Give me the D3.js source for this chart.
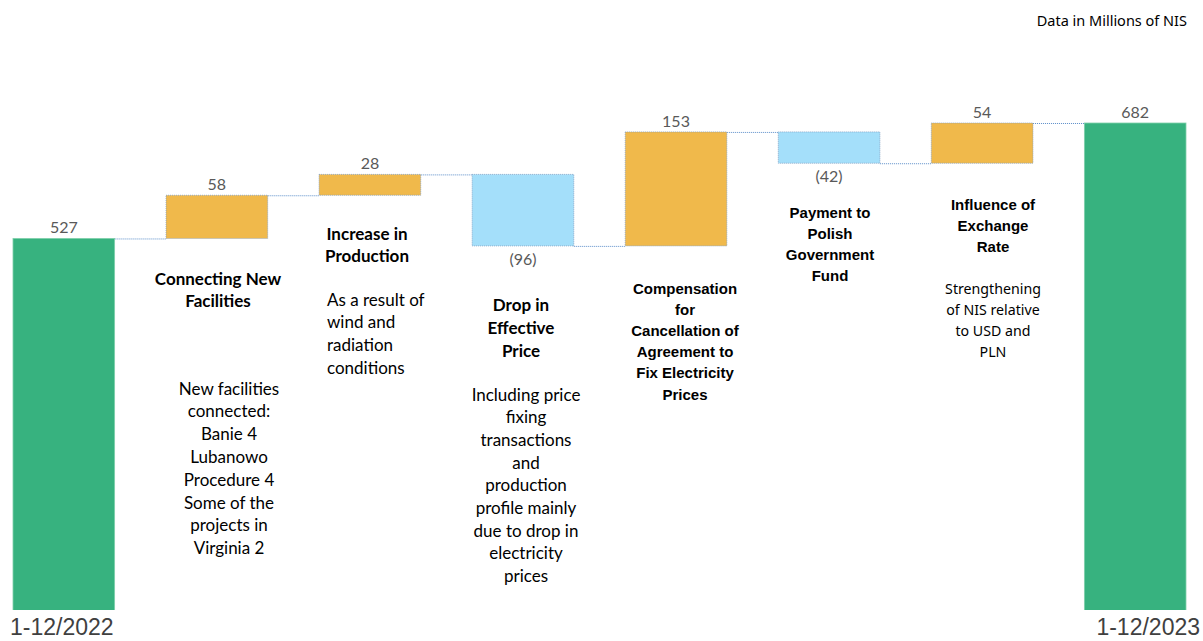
<!DOCTYPE html>
<html>
<head>
<meta charset="utf-8">
<script src="https://cdn.jsdelivr.net/npm/d3@7"></script>
<style>
  html, body { margin: 0; padding: 0; background: #ffffff; }
  svg { display: block; }
</style>
</head>
<body>
<div id="chart"></div>
<script>
// ---------------- DATA ----------------
const categories = [
  "1-12/2022",
  "Connecting New Facilities",
  "Increase in Production",
  "Drop in Effective Price",
  "Compensation for Cancellation of Agreement to Fix Electricity Prices",
  "Payment to Polish Government Fund",
  "Influence of Exchange Rate",
  "1-12/2023"
];
const values = [527, 58, 28, -96, 153, -42, 54, 682];
const kinds = ["total", "delta", "delta", "delta", "delta", "delta", "delta", "total"];
const axisLabels = ["1-12/2022", "", "", "", "", "", "", "1-12/2023"];

const titleLines = [
  [],
  ["Connecting New", "Facilities"],
  ["Increase in", "Production"],
  ["Drop in", "Effective", "Price"],
  ["Compensation", "for", "Cancellation of", "Agreement to", "Fix Electricity", "Prices"],
  ["Payment to", "Polish", "Government", "Fund"],
  ["Influence of", "Exchange", "Rate"],
  []
];
const descLines = [
  [],
  ["New facilities", "connected:", "Banie 4", "Lubanowo", "Procedure 4", "Some of the", "projects in", "Virginia 2"],
  ["As a result of", "wind and", "radiation", "conditions"],
  ["Including price", "fixing", "transactions", "and", "production", "profile mainly", "due to drop in", "electricity", "prices"],
  [],
  [],
  ["Strengthening", "of NIS relative", "to USD and", "PLN"],
  []
];
const unitNote = "Data in Millions of NIS";

// ---------------- LAYOUT ----------------
const W = 1203, H = 641;
const svg = d3.select("#chart").append("svg").attr("width", W).attr("height", H);

const x = d3.scaleBand().domain(categories).range([13, 1186]).paddingInner(0.336).paddingOuter(0);
const y = d3.scaleLinear().domain([0, 682]).range([631, 123]);
const plotBottom = 610;

const colors = { total: "#37B27F", pos: "#F0B94B", neg: "#A4DFFA" };

// compute waterfall segments
let running = 0;
const segs = categories.map((c, i) => {
  const v = values[i];
  let y0, y1;
  if (kinds[i] === "total") { y0 = 0; y1 = v; running = v; }
  else { y0 = running; y1 = running + v; running = y1; }
  return { c, i, v, kind: kinds[i], lo: Math.min(y0, y1), hi: Math.max(y0, y1), end: running };
});

svg.append("defs").append("clipPath").attr("id", "plotclip")
  .append("rect").attr("x", 0).attr("y", 0).attr("width", W).attr("height", plotBottom);

const g = svg.append("g").attr("clip-path", "url(#plotclip)");

// connectors
g.selectAll("line.conn").data(segs.slice(0, -1)).join("line")
  .attr("class", "conn")
  .attr("x1", d => x(d.c) + x.bandwidth())
  .attr("x2", d => x(categories[d.i + 1]))
  .attr("y1", d => y(d.end) + 0.5)
  .attr("y2", d => y(d.end) + 0.5)
  .attr("stroke", "#5B8DC9")
  .attr("stroke-width", 1)
  .attr("stroke-dasharray", "1,1");

// bars
g.selectAll("rect.bar").data(segs).join("rect")
  .attr("class", "bar")
  .attr("x", d => x(d.c))
  .attr("width", x.bandwidth())
  .attr("y", d => y(d.hi))
  .attr("height", d => y(d.lo) - y(d.hi))
  .attr("fill", d => d.kind === "total" ? colors.total : (d.v >= 0 ? colors.pos : colors.neg))
  .attr("stroke", d => d.kind === "total" ? "#7fd0ab" : "#7d9cc0")
  .attr("stroke-width", 0.8)
  .attr("stroke-dasharray", d => d.kind === "total" ? null : "1,1");

// value labels
const fmt = v => v < 0 ? "(" + Math.abs(v) + ")" : String(v);
svg.selectAll("text.val").data(segs).join("text")
  .attr("class", "val")
  .attr("x", d => x(d.c) + x.bandwidth() / 2)
  .attr("y", d => d.v >= 0 ? y(d.hi) - 5 : y(d.lo) + 19)
  .attr("text-anchor", "middle")
  .attr("font-family", "Lato, 'Open Sans', sans-serif")
  .attr("font-size", 16)
  .attr("fill", "#595959")
  .text(d => fmt(d.v));

// axis labels (first and last only)
const axis = d3.axisBottom(x).tickSize(0).tickFormat((d, i) => axisLabels[i]);
const ag = svg.append("g").attr("transform", `translate(0,${plotBottom})`).call(axis);
ag.select(".domain").remove();
const tickPos = d => x(d) + x.bandwidth() / 2;
const last = categories.length - 1;
ag.selectAll(".tick text")
  .attr("font-family", "'Liberation Sans', Arial, sans-serif")
  .attr("font-size", 23)
  .attr("fill", "#404040")
  .attr("y", 25)
  .attr("dy", 0)
  .attr("text-anchor", (d, i) => i === 0 ? "start" : (i === last ? "end" : "middle"))
  .attr("x", (d, i) => i === 0 ? 10 - tickPos(d) : (i === last ? 1200 - tickPos(d) : 0));

// annotation styles (layout only)
const ann = [
  null,
  { tx: 218, ty: 278, tdy: 22, tfont: "Lato", tsize: 17, dx: 229, dy: 388, ddy: 22.8, dsize: 17, dfont: "Lato", danchor: "middle" },
  { tx: 367, ty: 233, tdy: 22, tfont: "Lato", tsize: 17, dx: 327, dy: 299, ddy: 22.7, dsize: 17, dfont: "Lato", danchor: "start" },
  { tx: 521, ty: 304, tdy: 23, tfont: "Lato", tsize: 17, dx: 526, dy: 394, ddy: 22.7, dsize: 17, dfont: "Lato", danchor: "middle" },
  { tx: 685, ty: 288, tdy: 21.2, tfont: "'Liberation Sans'", tsize: 15, dx: 0, dy: 0, ddy: 0, dsize: 13, dfont: "Lato", danchor: "middle" },
  { tx: 830, ty: 212, tdy: 21, tfont: "'Liberation Sans'", tsize: 15, dx: 0, dy: 0, ddy: 0, dsize: 13, dfont: "Lato", danchor: "middle" },
  { tx: 993, ty: 204, tdy: 21, tfont: "'Liberation Sans'", tsize: 15, dx: 993, dy: 288, ddy: 21.3, dsize: 14.2, dfont: "'Noto Sans'", danchor: "middle" },
  null
];

categories.forEach((c, i) => {
  const a = ann[i];
  if (!a) return;
  const t = svg.append("text")
    .attr("text-anchor", "middle")
    .attr("font-family", a.tfont + ", sans-serif")
    .attr("font-weight", "bold")
    .attr("font-size", a.tsize)
    .attr("fill", "#000");
  titleLines[i].forEach((ln, k) => {
    t.append("tspan").attr("x", a.tx).attr("y", a.ty + k * a.tdy).attr("dominant-baseline", "central").text(ln);
  });
  if (descLines[i].length) {
    const dtx = svg.append("text")
      .attr("text-anchor", a.danchor)
      .attr("font-family", a.dfont + ", sans-serif")
      .attr("font-size", a.dsize)
      .attr("fill", "#000");
    descLines[i].forEach((ln, k) => {
      dtx.append("tspan").attr("x", a.dx).attr("y", a.dy + k * a.ddy).attr("dominant-baseline", "central").text(ln);
    });
  }
});

// unit note
svg.append("text")
  .attr("x", 1187).attr("y", 20)
  .attr("text-anchor", "end")
  .attr("dominant-baseline", "central")
  .attr("font-family", "'Noto Sans', sans-serif")
  .attr("font-size", 14.5)
  .attr("fill", "#000")
  .text(unitNote);
</script>
</body>
</html>
